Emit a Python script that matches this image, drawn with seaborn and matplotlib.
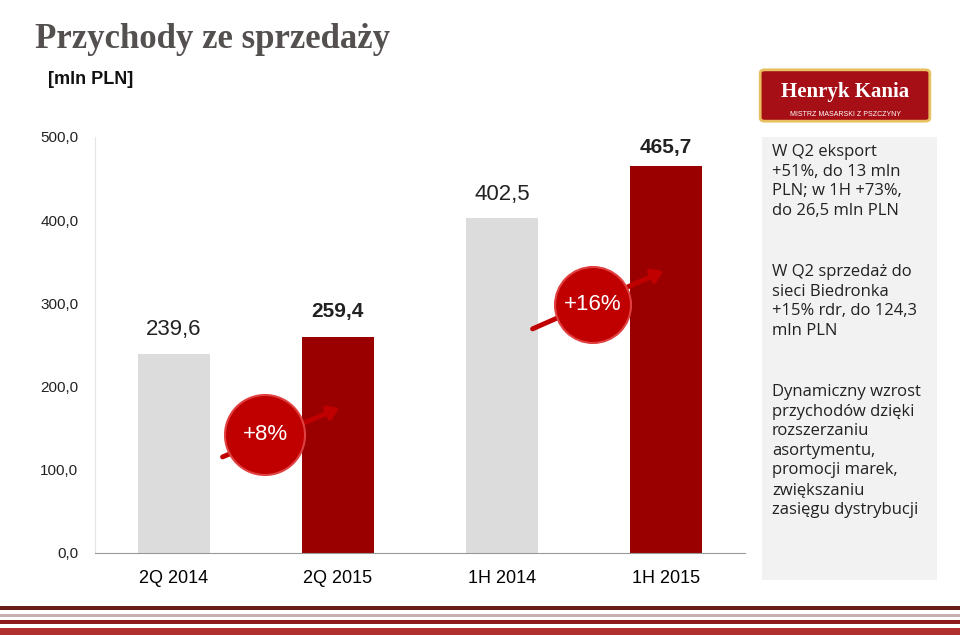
import matplotlib
matplotlib.use("Agg")
import matplotlib.pyplot as plt
import seaborn as sns
import pandas as pd
from matplotlib.patches import Ellipse, FancyBboxPatch, Rectangle, FancyArrowPatch

categories = ["2Q 2014", "2Q 2015", "1H 2014", "1H 2015"]
values = [239.6, 259.4, 402.5, 465.7]
bold_labels = [False, True, False, True]
yticks = [0, 100, 200, 300, 400, 500]
growth = ["+8%", "+16%"]
notes = ["W Q2 eksport\n+51%, do 13 mln\nPLN; w 1H +73%,\ndo 26,5 mln PLN",
         "W Q2 sprzedaż do\nsieci Biedronka\n+15% rdr, do 124,3\nmln PLN",
         "Dynamiczny wzrost\nprzychodów dzięki\nrozszerzaniu\nasortymentu,\npromocji marek,\nzwiększaniu\nzasięgu dystrybucji"]

plt.rcParams["font.family"] = "Liberation Sans"
W, H = 960, 635
fig = plt.figure(figsize=(9.6, 6.35), dpi=100)
fig.patch.set_facecolor("white")
ax = fig.add_axes([95/W, (H-553)/H, 650/W, 416/H])
df = pd.DataFrame({"cat": categories, "val": values})
colors = ["#DCDCDC", "#9B0000", "#DCDCDC", "#9B0000"]
sns.barplot(data=df, x="cat", y="val", hue="cat", palette=colors, legend=False, width=0.44,
            saturation=1, ax=ax)
ax.set_ylim(0, 500)
ax.set_xlim(-0.48, 3.48)
ax.set_yticks(yticks)
ax.set_yticklabels([f"{v},0" for v in yticks], fontsize=11, color="#222222")
ax.tick_params(axis="x", labelsize=13, length=0, pad=12)
ax.tick_params(axis="y", length=0, pad=12)
ax.set_xlabel(""); ax.set_ylabel("")
for s in ["top", "right"]:
    ax.spines[s].set_visible(False)
ax.spines["left"].set_color("#E5E5E5")
ax.spines["bottom"].set_color("#999999")
offsets = [17, 20, 16, 10]
for i, (v, b) in enumerate(zip(values, bold_labels)):
    ax.text(i, v + offsets[i], f"{v:.1f}".replace(".", ","), ha="center", va="bottom",
            fontsize=16 if not b else 15, fontweight="bold" if b else "normal", color="#222222")

def fx(x): return x / W
def fy(y): return (H - y) / H
for (txt, cx, cy, r, a0, a1) in [(growth[0], 265, 435, 40, (220, 458), (342, 407)),
                                 (growth[1], 593, 305, 38, (530, 330), (666, 270))]:
    arr = FancyArrowPatch((fx(a0[0]), fy(a0[1])), (fx(a1[0]), fy(a1[1])), transform=fig.transFigure,
                          arrowstyle="-|>,head_length=6,head_width=4", lw=3.5, color="#C00000", zorder=5)
    fig.patches.append(arr)
    c = Ellipse((fx(cx), fy(cy)), 2 * r / W, 2 * r / H, transform=fig.transFigure, facecolor="#C00000",
                edgecolor="#E04040", lw=1.5, zorder=6)
    fig.patches.append(c)
    fig.text(fx(cx), fy(cy), txt, ha="center", va="center", fontsize=16, color="white", zorder=7)

fig.text(35/W, fy(40), "Przychody ze sprzedaży", fontsize=25, family="Liberation Serif",
         fontweight="bold", color="#555050", va="center")
fig.text(48/W, fy(80), "[mln PLN]", fontsize=13, fontweight="bold", color="#111111", va="center")

fig.patches.append(Rectangle((fx(762), fy(580)), 175/W, 443/H, transform=fig.transFigure,
                             facecolor="#F2F2F2", edgecolor="none"))
for t, y in zip(notes, [144, 264, 384]):
    fig.text(fx(772), fy(y), t, fontsize=12, family="Open Sans", color="#222222", va="top", linespacing=1.3)

fig.patches.append(FancyBboxPatch((fx(765), fy(118)), 160/W, 45/H, boxstyle="round,pad=0.005",
                                  transform=fig.transFigure, facecolor="#A50F15", edgecolor="#E8C060", lw=2))
fig.text(fx(845), fy(92), "Henryk Kania", ha="center", va="center", fontsize=15,
         fontweight="bold", color="white", family="Liberation Serif")
fig.text(fx(845), fy(114), "MISTRZ MASARSKI Z PSZCZYNY", ha="center", va="center", fontsize=5, color="white")

for y0, h, col in [(606, 4, "#6B1A1A"), (614, 3, "#C8B0B0"), (620, 4, "#8B1A1A"), (628, 7, "#B03030")]:
    fig.patches.append(Rectangle((0, fy(y0 + h)), 1, h / H, transform=fig.transFigure,
                                 facecolor=col, edgecolor="none"))

fig.savefig("out.png", dpi=100)
